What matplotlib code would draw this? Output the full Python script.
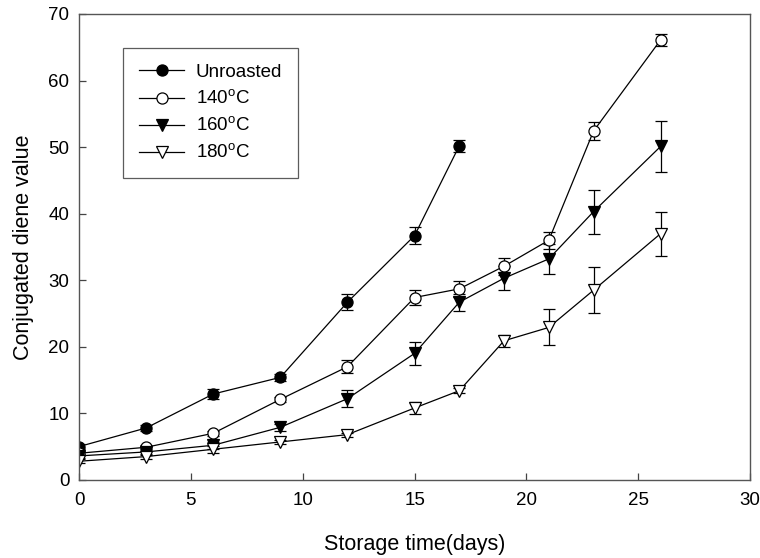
import matplotlib
matplotlib.use("Agg")
import matplotlib.pyplot as plt
from matplotlib.lines import Line2D

plt.rcParams["font.family"] = ["Liberation Sans", "DejaVu Sans"]
plt.rcParams["mathtext.fontset"] = "custom"
plt.rcParams["mathtext.rm"] = "Liberation Sans"

days_long = [0, 3, 6, 9, 12, 15, 17, 19, 21, 23, 26]
days_unroasted = [0, 3, 6, 9, 12, 15, 17]

unroasted = [5.0, 7.8, 12.9, 15.4, 26.7, 36.7, 50.2]
unroasted_err = [0.4, 0.4, 0.8, 0.5, 1.2, 1.3, 0.9]

t140 = [4.0, 4.9, 7.0, 12.1, 17.0, 27.4, 28.7, 32.1, 36.0, 52.4, 66.1]
t140_err = [0.3, 0.3, 0.4, 0.4, 1.0, 1.1, 1.2, 1.3, 1.3, 1.4, 0.9]

t160 = [3.6, 4.2, 5.2, 7.9, 12.2, 19.0, 26.7, 30.3, 33.2, 40.3, 50.1]
t160_err = [0.3, 0.3, 0.5, 0.5, 1.3, 1.7, 1.3, 1.8, 2.2, 3.3, 3.8]

t180 = [2.8, 3.5, 4.6, 5.7, 6.8, 10.8, 13.4, 20.9, 22.9, 28.5, 37.0]
t180_err = [0.3, 0.3, 0.5, 0.3, 0.3, 0.9, 0.4, 0.9, 2.7, 3.5, 3.3]

series = [
    (days_unroasted, unroasted, unroasted_err, "o", "black", "Unroasted"),
    (days_long, t140, t140_err, "o", "white", "140$^{\\rm o}$C"),
    (days_long, t160, t160_err, "v", "black", "160$^{\\rm o}$C"),
    (days_long, t180, t180_err, "v", "white", "180$^{\\rm o}$C"),
]

fig = plt.figure(figsize=(7.6, 5.58), dpi=100)
ax = fig.add_axes([0.104, 0.140, 0.883, 0.835])

handles = []
for x, y, err, marker, face, label in series:
    ax.errorbar(x, y, yerr=err, marker=marker, markersize=8, markerfacecolor=face,
                markeredgecolor="black", markeredgewidth=0.9, color="black", lw=0.9,
                ecolor="black", elinewidth=0.9, capsize=4, capthick=0.9)
    handles.append(Line2D([], [], marker=marker, markersize=8, markerfacecolor=face,
                          markeredgecolor="black", markeredgewidth=0.9, color="black",
                          lw=0.9, label=label))

ax.set_xlim(0, 30)
ax.set_ylim(0, 70)
ax.set_xticks(range(0, 31, 5))
ax.set_yticks(range(0, 71, 10))
ax.tick_params(axis="both", direction="in", labelsize=13.5, length=5, width=0.9, color="#444")
ax.tick_params(axis="x", pad=9)
ax.tick_params(axis="y", pad=7)
for s in ax.spines.values():
    s.set_color("#555")
    s.set_linewidth(1.0)

ax.set_xlabel("Storage time(days)", fontsize=15.5, labelpad=18)
ax.set_ylabel("Conjugated diene value", fontsize=15.5, labelpad=10)

leg = ax.legend(handles=handles, loc="upper left", bbox_to_anchor=(0.066, 0.927), fontsize=13.5,
                frameon=True, fancybox=False, edgecolor="#333", borderpad=0.85,
                handlelength=2.4, handletextpad=0.6, labelspacing=0.45, borderaxespad=0)
leg.get_frame().set_linewidth(0.9)

fig.savefig("out.png", dpi=100)
